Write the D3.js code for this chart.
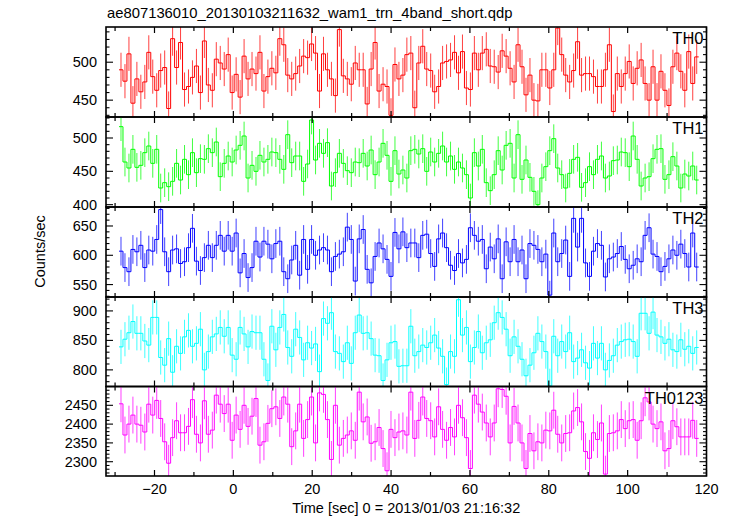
<!DOCTYPE html>
<html><head><meta charset="utf-8">
<script src="https://cdn.jsdelivr.net/npm/d3@7"></script>
<style>body{margin:0;background:#fff} text{font-family:"Liberation Sans",Arial,Helvetica,sans-serif;fill:#000}</style>
</head><body><svg id="c" width="733" height="516"></svg>
<script>
// ---- data ----
const timeStart = -29;   // left edge of first bin [sec]
const binWidth = 1.007;
const th0 = [490,475,511,446,478,461,474,513,481,463,489,493,439,531,493,526,464,468,480,495,
 460,528,470,463,504,499,491,510,460,484,454,508,478,491,485,513,462,481,492,486,
 531,523,483,478,485,495,508,506,524,512,462,511,490,478,456,543,482,478,471,499,
 490,490,445,491,526,462,471,468,430,497,478,
 483,510,512,440,499,521,491,489,461,468,499,501,503,513,486,514,466,464,512,490,
 512,517,495,494,487,515,508,492,474,523,494,457,483,450,449,490,490,466,490,545,
 510,483,474,489,527,483,485,485,481,468,468,490,523,435,485,468,485,501,472,492,
 503,472,450,494,450,488,463,443,494,512,488,463,514,472,507];
const th1 = [517,464,455,483,456,459,478,488,462,483,425,433,427,435,462,437,468,445,478,448,
 469,468,484,478,494,442,462,473,464,482,489,503,440,459,450,474,464,468,479,478,
 468,453,505,463,473,473,435,461,527,467,492,477,493,428,448,477,462,451,448,464,
 463,477,458,482,445,464,492,474,435,481,446,
 452,440,481,483,476,484,450,479,464,477,488,464,473,453,464,455,445,410,478,458,
 483,433,421,445,481,452,489,492,440,505,438,467,441,420,400,440,457,481,499,455,
 445,425,447,468,471,426,433,457,445,468,473,440,443,466,467,479,478,457,503,468,
 428,440,442,469,483,484,438,445,472,458,425,446,443,458,437];
const th2 = [607,579,572,610,606,617,579,609,607,627,678,606,572,609,611,586,589,613,646,590,
 574,596,617,596,617,634,607,634,607,638,570,603,562,579,624,597,624,619,594,620,
 624,572,560,592,617,566,627,576,627,600,609,613,609,572,598,602,606,648,627,556,
 628,644,576,553,598,621,611,593,564,639,611,
 640,613,621,621,596,634,636,603,581,628,638,613,583,574,603,587,593,647,634,624,
 627,577,614,594,628,560,623,589,627,589,609,560,620,617,610,589,602,532,638,589,
 603,626,564,663,614,663,587,564,607,620,617,563,594,597,603,615,593,577,583,594,
 589,634,647,602,598,572,581,594,609,600,619,603,580,638,580];
const th3 = [839,852,863,882,862,862,849,842,889,889,821,808,853,796,840,828,856,867,840,845,
 869,800,831,856,861,872,857,872,825,818,872,861,839,865,863,863,818,782,874,834,
 872,894,838,823,869,855,817,846,837,844,797,887,879,897,831,828,814,846,811,863,
 893,862,863,853,825,824,782,817,846,848,806,
 807,807,874,824,831,842,838,846,859,837,823,775,831,823,919,859,872,814,838,865,
 829,846,851,880,897,889,869,824,856,840,818,790,808,829,862,848,831,773,857,824,
 848,831,863,814,820,834,812,803,845,820,845,800,816,824,842,848,851,852,848,823,
 896,896,862,898,859,856,845,852,834,831,851,835,840,828,838];
const th0123 = [2454,2371,2400,2424,2400,2397,2379,2453,2424,2463,2415,2353,2296,2364,2409,2377,2377,2394,2465,2373,
 2350,2462,2373,2384,2477,2453,2428,2453,2357,2424,2386,2450,2394,2421,2468,2344,2353,2402,2441,2446,
 2415,2472,2453,2340,2382,2453,2362,2412,2472,2350,2483,2479,2412,2306,2450,2344,2362,2371,2382,2357,
 2485,2406,2419,2349,2353,2391,2335,2276,2386,2364,2379,
 2382,2371,2485,2362,2410,2472,2415,2409,2366,2446,2386,2357,2391,2366,2450,2417,2364,2282,2477,2453,
 2432,2403,2366,2403,2494,2492,2474,2350,2447,2403,2350,2282,2375,2329,2353,2350,2384,2382,2437,2373,
 2350,2375,2377,2435,2444,2406,2327,2309,2377,2359,2403,2267,2375,2377,2382,2412,2388,2409,2412,2357,
 2409,2470,2459,2400,2388,2406,2329,2335,2409,2393,2366,2366,2366,2410,2362];

const panelNames  = ["TH0","TH1","TH2","TH3","TH0123"];
const panelSeries = [th0, th1, th2, th3, th0123];
const panelErrors = [22.5, 21.5, 24.5, 29, 49];
const panelColors = ["#ff0000","#00ff00","#0000ff","#00ffff","#ff00ff"];
const yDomains    = [[427.8,546.4],[396.5,531.5],[528.8,682.4],[771.8,923.6],[2262,2500]];
const yTickLabels = [[450,500],[400,450,500],[550,600,650],[800,850,900],[2300,2350,2400,2450]];
const yMinorStep  = [10,10,10,10,10];
const xTickLabels = [-20,0,20,40,60,80,100,120];
const xDomain = [-32.3, 120];
const titleText = "ae807136010_20130103211632_wam1_trn_4band_short.qdp";
const xLabelText = "Time [sec] 0 = 2013/01/03 21:16:32";
const yLabelText = "Counts/sec";

// ---- layout ----
const svg = d3.select("#c");
const L = 106, R = 706.5;
const bounds = [27, 117, 207, 297, 386.5, 476];
const x = d3.scaleLinear().domain(xDomain).range([L, R]);
const xMinor = d3.range(-30, 121, 10);

panelSeries.forEach((vals, p) => {
  const top = bounds[p], bot = bounds[p+1];
  const y = d3.scaleLinear().domain(yDomains[p]).range([bot, top]);
  const g = svg.append("g");
  const cid = "clip" + p;
  svg.append("clipPath").attr("id", cid).append("rect")
    .attr("x", L).attr("y", top).attr("width", R - L).attr("height", bot - top);
  const dg = g.append("g").attr("clip-path", `url(#${cid})`);
  const col = panelColors[p];
  const err = panelErrors[p];
  const pts = vals.map((v, i) => ({t: timeStart + i * binWidth, v}));
  dg.selectAll("line.err").data(pts).enter().append("line")
    .attr("x1", d => x(d.t + binWidth/2)).attr("x2", d => x(d.t + binWidth/2))
    .attr("y1", d => y(d.v - err)).attr("y2", d => y(d.v + err))
    .attr("stroke", col).attr("stroke-width", 1).attr("stroke-opacity", 0.75);
  const stepPts = pts.concat([{t: timeStart + vals.length * binWidth, v: vals[vals.length-1]}]);
  dg.append("path").datum(stepPts)
    .attr("d", d3.line().x(d => x(d.t)).y(d => y(d.v)).curve(d3.curveStepAfter))
    .attr("fill", "none").attr("stroke", col).attr("stroke-width", 1);

  xMinor.forEach(t => {
    const len = (t % 20 === 0) ? 6 : 4;
    g.append("line").attr("x1", x(t)).attr("x2", x(t)).attr("y1", bot).attr("y2", bot - len)
      .attr("stroke", "#000").attr("stroke-width", 1.2);
    g.append("line").attr("x1", x(t)).attr("x2", x(t)).attr("y1", top).attr("y2", top + len)
      .attr("stroke", "#000").attr("stroke-width", 1.2);
  });
  const [y0, y1] = yDomains[p];
  const minor = d3.range(Math.ceil(y0 / yMinorStep[p]) * yMinorStep[p], y1, yMinorStep[p]);
  minor.forEach(v => {
    const major = yTickLabels[p].includes(v);
    const len = major ? 7 : 3.5;
    g.append("line").attr("x1", L).attr("x2", L + len).attr("y1", y(v)).attr("y2", y(v))
      .attr("stroke", "#000").attr("stroke-width", 1.1);
    g.append("line").attr("x1", R).attr("x2", R - len).attr("y1", y(v)).attr("y2", y(v))
      .attr("stroke", "#000").attr("stroke-width", 1.1);
  });
  yTickLabels[p].forEach(v => {
    g.append("text").attr("x", L - 9).attr("y", y(v) + 5).attr("text-anchor", "end")
      .attr("font-size", 14.5).text(v);
  });
  g.append("rect").attr("x", L).attr("y", top).attr("width", R - L).attr("height", bot - top)
    .attr("fill", "none").attr("stroke", "#000").attr("stroke-width", 1.6);
  g.append("text").attr("x", R - 3).attr("y", top + 17).attr("text-anchor", "end")
    .attr("font-size", 16.5).text(panelNames[p]);

  if (p === panelSeries.length - 1) {
    xTickLabels.forEach(t => {
      g.append("text").attr("x", x(t)).attr("y", bot + 18).attr("text-anchor", "middle")
        .attr("font-size", 14.5).text(d3.format("")(t));
    });
  }
});

svg.append("text").attr("x", L + 1).attr("y", 18).attr("font-size", 14.8).text(titleText);
svg.append("text").attr("x", (L + R) / 2).attr("y", 513).attr("text-anchor", "middle")
  .attr("font-size", 14.5).text(xLabelText);
svg.append("text").attr("transform", `translate(45,${(bounds[0] + bounds[5]) / 2}) rotate(-90)`)
  .attr("text-anchor", "middle").attr("font-size", 14.5).text(yLabelText);
</script></body></html>
